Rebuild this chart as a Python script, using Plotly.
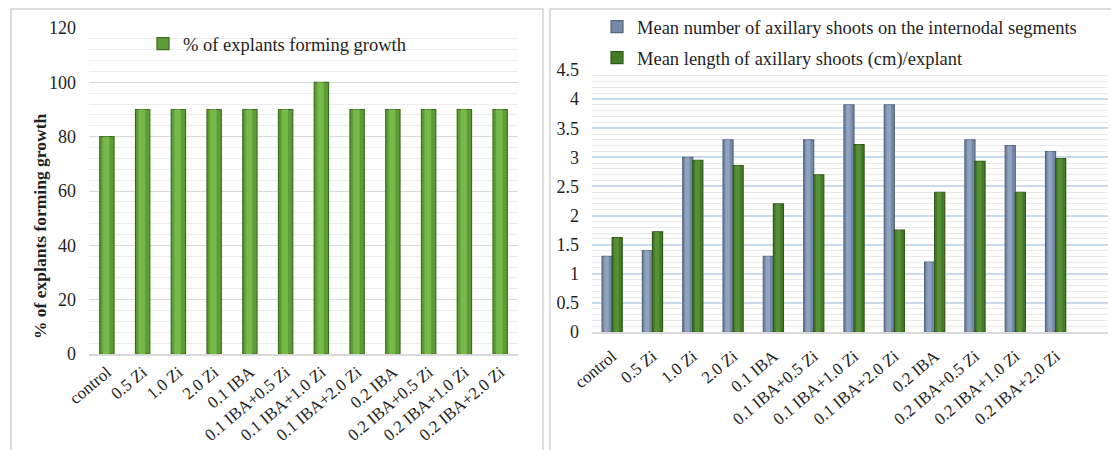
import plotly.graph_objects as go

# Treatments (mg/L growth regulators)
treatments = ["control", "0.5 Zi", "1.0 Zi", "2.0 Zi", "0.1 IBA", "0.1 IBA+0.5 Zi",
              "0.1 IBA+1.0 Zi", "0.1 IBA+2.0 Zi", "0.2 IBA", "0.2 IBA+0.5 Zi",
              "0.2 IBA+1.0 Zi", "0.2 IBA+2.0 Zi"]

# Left chart: % of explants forming growth
pct_growth = [80, 90, 90, 90, 90, 90, 100, 90, 90, 90, 90, 90]

# Right chart: axillary shoot number and length
mean_shoot_number = [1.3, 1.4, 3.0, 3.3, 1.3, 3.3, 3.9, 3.9, 1.2, 3.3, 3.2, 3.1]
mean_shoot_length = [1.62, 1.72, 2.95, 2.86, 2.2, 2.7, 3.22, 1.75, 2.4, 2.93, 2.4, 2.98]

W, H = 1111, 450
SERIF = "Liberation Serif, Times New Roman, serif"
TXT = "#1f1f1f"


def px_x(x):
    return x / W


def px_y(y):
    return 1 - y / H


def cylinder(fig, x, y, name, xa, ya, offset, width, body, edge, shine, legend, group):
    """Bar with a darker rim and a lighter centre strip for a rounded look."""
    fig.add_trace(go.Bar(
        x=x, y=y, name=name, xaxis=xa, yaxis=ya, width=width, offset=offset,
        marker=dict(color=body, line=dict(color=edge, width=1.2)),
        legend=legend, legendgroup=group, showlegend=True,
    ))
    fig.add_trace(go.Bar(
        x=x, y=y, name=name, xaxis=xa, yaxis=ya,
        width=width * 0.45, offset=offset + width * 0.22,
        marker=dict(color=shine, line=dict(width=0)),
        legend=legend, legendgroup=group, showlegend=False, hoverinfo="skip",
    ))


fig = go.Figure()

cylinder(fig, treatments, pct_growth, "% of explants forming growth", "x", "y",
         -0.2, 0.4, "#5e9d35", "#3b6c1f", "#77b84a", "legend", "p")
cylinder(fig, treatments, mean_shoot_number,
         "Mean number of axillary shoots on the internodal segments", "x2", "y2",
         -0.25, 0.25, "#7489a8", "#55677f", "#8fa3bf", "legend2", "a")
cylinder(fig, treatments, mean_shoot_length,
         "Mean length of axillary shoots (cm)/explant", "x2", "y2",
         0.0, 0.25, "#447c26", "#30581a", "#578f38", "legend2", "b")

tickfont = dict(family=SERIF, size=17, color=TXT)
legfont = dict(family=SERIF, size=18.5, color=TXT)

fig.update_layout(
    width=W, height=H,
    margin=dict(l=0, r=0, t=0, b=0, autoexpand=False),
    paper_bgcolor="white", plot_bgcolor="white",
    barmode="overlay", showlegend=True,
    font=dict(family=SERIF, size=17, color=TXT),
    xaxis=dict(
        domain=[px_x(89), px_x(518)], anchor="y", type="category",
        range=[-0.5, 11.5], tickangle=-40, tickfont=tickfont,
        showline=True, linecolor="#d9d9d9", linewidth=1.5,
        showgrid=False, ticks="", automargin=False,
    ),
    yaxis=dict(
        domain=[px_y(354), px_y(28)], anchor="x",
        range=[0, 120], dtick=20, tickfont=dict(family=SERIF, size=18, color=TXT),
        showgrid=True, gridcolor="#d9d9d9", gridwidth=1.2,
        minor=dict(dtick=4, showgrid=True, gridcolor="#ececec", gridwidth=1),
        zeroline=False, ticks="", ticklabelstandoff=12, automargin=False,
    ),
    xaxis2=dict(
        domain=[px_x(592), px_x(1108)], anchor="y2", type="category",
        range=[-0.5, 12.3], tickangle=-40, tickfont=tickfont,
        showline=True, linecolor="#d9d9d9", linewidth=1.5,
        showgrid=False, ticks="", automargin=False, ticklabelstandoff=6,
    ),
    yaxis2=dict(
        domain=[px_y(332), px_y(70)], anchor="x2",
        range=[0, 4.5], dtick=0.5, tickfont=dict(family=SERIF, size=18, color=TXT),
        showgrid=True, gridcolor="#c9daf0", gridwidth=1.5,
        minor=dict(dtick=0.1, showgrid=True, gridcolor="#e9e9e9", gridwidth=1),
        zeroline=False, ticks="", ticklabelstandoff=12, automargin=False,
    ),
    legend=dict(
        visible=True,
        x=px_x(143), y=px_y(44), xanchor="left", yanchor="middle",
        font=legfont, bgcolor="rgba(0,0,0,0)", itemwidth=30,
    ),
    legend2=dict(
        visible=True,
        x=px_x(597), y=px_y(8), xanchor="left", yanchor="top",
        font=legfont, bgcolor="rgba(0,0,0,0)",
        traceorder="grouped", tracegroupgap=4, itemwidth=30,
    ),
    shapes=[
        dict(type="rect", xref="paper", yref="paper",
             x0=px_x(11), x1=px_x(543), y0=px_y(470), y1=px_y(9),
             line=dict(color="#d4d4d4", width=1.5), layer="below"),
        dict(type="rect", xref="paper", yref="paper",
             x0=px_x(550), x1=px_x(1125), y0=px_y(470), y1=px_y(9),
             line=dict(color="#d4d4d4", width=1.5), layer="below"),
    ],
    annotations=[
        dict(text="<b>% of explants forming growth</b>", xref="paper", yref="paper",
             x=px_x(40), y=px_y(227), textangle=-90, showarrow=False,
             font=dict(family=SERIF, size=17.5, color=TXT),
             xanchor="center", yanchor="middle"),
    ],
)

fig.write_html("out.html")
